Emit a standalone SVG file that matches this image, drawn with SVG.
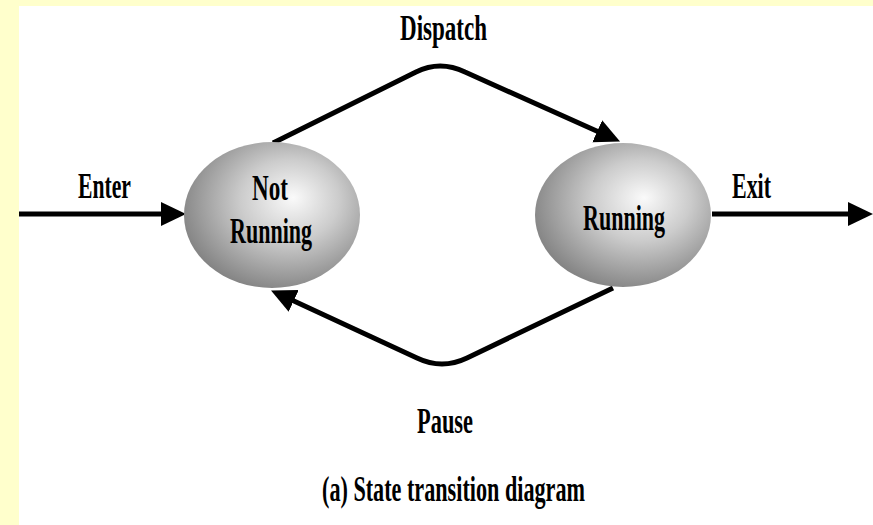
<svg xmlns="http://www.w3.org/2000/svg" width="873" height="525" viewBox="0 0 873 525">
<style>
.lbl{font-family:"Liberation Serif","Times New Roman",serif;font-weight:bold;font-size:35px;fill:#000}
.edge{fill:none;stroke:#000;stroke-width:5;stroke-linejoin:round}
.state{stroke:none}
</style>
<defs>
<radialGradient id="ball" cx="0.58" cy="0.42" r="0.62" fx="0.62" fy="0.38">
<stop offset="0" stop-color="#fafafa"/>
<stop offset="0.45" stop-color="#cccccc"/>
<stop offset="1" stop-color="#828282"/>
</radialGradient>
<marker id="ah" markerUnits="userSpaceOnUse" markerWidth="26" markerHeight="26" viewBox="0 0 26 26" refX="14" refY="13" orient="auto">
<path d="M0,1 L25,13 L0,25 z" fill="#000"/>
</marker>
</defs>
<rect x="0" y="0" width="873" height="525" fill="#ffffcc"/>
<rect x="19" y="6" width="854" height="519" fill="#ffffff"/>
<g id="connectors">
<path class="edge" d="M19,214 H175" marker-end="url(#ah)"/>
<path class="edge" d="M712,214 H862" marker-end="url(#ah)"/>
<path class="edge" d="M273,143 L416,72 Q440,60 465,72 L610,137" marker-end="url(#ah)"/>
<path class="edge" d="M613,288 L467,358 Q442,370 417,358 L281,295" marker-end="url(#ah)"/>
</g>
<g id="node-not-running">
<ellipse class="state" cx="272" cy="215" rx="88" ry="73" fill="url(#ball)"/>
<text class="lbl" x="252" y="200" textLength="36" lengthAdjust="spacingAndGlyphs">Not</text>
<text class="lbl" x="230" y="243" textLength="82" lengthAdjust="spacingAndGlyphs">Running</text>
</g>
<g id="node-running">
<ellipse class="state" cx="623" cy="215" rx="88" ry="72" fill="url(#ball)"/>
<text class="lbl" x="583" y="230" textLength="82" lengthAdjust="spacingAndGlyphs">Running</text>
</g>
<g id="labels">
<text class="lbl" x="400" y="40" textLength="87" lengthAdjust="spacingAndGlyphs">Dispatch</text>
<text class="lbl" x="78" y="198" textLength="53" lengthAdjust="spacingAndGlyphs">Enter</text>
<text class="lbl" x="732" y="198" textLength="39" lengthAdjust="spacingAndGlyphs">Exit</text>
<text class="lbl" x="417" y="433" textLength="56" lengthAdjust="spacingAndGlyphs">Pause</text>
<text class="lbl" x="322" y="501" textLength="263" lengthAdjust="spacingAndGlyphs">(a) State transition diagram</text>
</g>
</svg>
